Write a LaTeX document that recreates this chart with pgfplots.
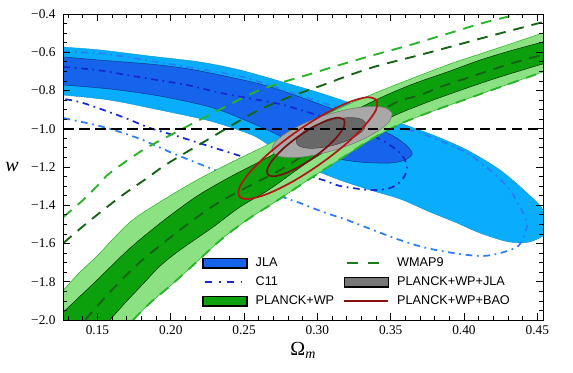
\documentclass[border=0pt]{standalone}
\usepackage{pgfplots}
\pgfplotsset{compat=1.18}
\usepackage{fontspec}
\setmainfont{Liberation Serif}
\setsansfont{Liberation Sans}
\definecolor{jlaL}{RGB}{10,172,252}
\definecolor{jlaD}{RGB}{22,100,235}
\definecolor{plL}{RGB}{140,226,130}
\definecolor{plD}{RGB}{12,160,12}
\definecolor{grL}{RGB}{168,168,168}
\definecolor{grD}{RGB}{104,104,104}
\definecolor{redO}{RGB}{178,22,22}
\definecolor{redI}{RGB}{118,18,18}
\definecolor{wmL}{RGB}{40,180,40}
\definecolor{wmD}{RGB}{20,100,20}
\definecolor{c11D}{RGB}{22,40,210}
\definecolor{c11L}{RGB}{40,125,250}
\begin{document}
\begin{tikzpicture}
\useasboundingbox (-47.6pt,-39pt) rectangle (382.1pt,240pt);
\begin{axis}[
  scale only axis, width=359.6pt, height=229.5pt,
  at={(0pt,0pt)}, anchor=south west,
  xmin=0.1268, xmax=0.4539, ymin=-2, ymax=-0.4,
  xtick={0.15,0.20,0.25,0.30,0.35,0.40,0.45},
  xticklabels={0.15,0.20,0.25,0.30,0.35,0.40,0.45},
  minor xtick={0.13,0.14,0.16,0.17,0.18,0.19,0.21,0.22,0.23,0.24,0.26,0.27,0.28,0.29,0.31,0.32,0.33,0.34,0.36,0.37,0.38,0.39,0.41,0.42,0.43,0.44},
  ytick={-2,-1.8,-1.6,-1.4,-1.2,-1,-0.8,-0.6,-0.4},
  yticklabels={−2.0,−1.8,−1.6,−1.4,−1.2,−1.0,−0.8,−0.6,−0.4},
  minor ytick={-1.95,-1.9,-1.85,-1.75,-1.7,-1.65,-1.55,-1.5,-1.45,-1.35,-1.3,-1.25,-1.15,-1.1,-1.05,-0.95,-0.9,-0.85,-0.75,-0.7,-0.65,-0.55,-0.5,-0.45},
  major tick length=5pt, minor tick length=2.7pt,
  every tick/.style={black, line width=0.6pt},
  axis line style={line width=0.7pt},
  tick label style={font=\fontsize{10}{12}\selectfont},
  yticklabel style={xshift=-2.5pt},
  xticklabel style={yshift=-1pt},
  xlabel={Ω\textsubscript{\itshape m}},
  ylabel={\itshape w},
  every axis x label/.style={at={(rel axis cs:0.5,0)}, anchor=center, yshift=-22.5pt, font=\fontsize{15}{17}\selectfont},
  every axis y label/.style={at={(rel axis cs:0,0.5)}, anchor=center, xshift=-38.6pt, font=\fontsize{15}{16}\selectfont},
  axis on top,
  legend columns=2,
  legend cell align=left,
  legend style={draw=none, fill=none, at={(axis cs:0.2213,-1.671)}, anchor=north west,
    font=\sffamily\fontsize{9.5}{11}\selectfont, inner sep=0pt, outer sep=0pt,
    nodes={inner sep=0pt, text height=7pt, text depth=2pt},
    row sep=5.25pt,
    /tikz/every odd column/.append style={column sep=6pt},
    /tikz/every even column/.append style={column sep=7pt}},
]
% JLA 2 sigma
\addplot[fill=jlaL, draw=jlaL!85!black, line width=0.3pt, smooth, tension=0.5, forget plot] coordinates {
(0.1268,-0.573) (0.1517,-0.588) (0.1858,-0.620) (0.2199,-0.651) (0.2472,-0.693) (0.2765,-0.756) (0.3018,-0.813) (0.3222,-0.865) (0.3427,-0.923) (0.3564,-0.970) (0.3789,-1.033) (0.4020,-1.111) (0.4246,-1.216) (0.4430,-1.336) (0.4539,-1.425) (0.4560,-1.540) (0.4484,-1.582) (0.4396,-1.597) (0.4280,-1.587) (0.4109,-1.545) (0.3939,-1.488) (0.3768,-1.435) (0.3564,-1.367) (0.3359,-1.320) (0.3154,-1.268) (0.2950,-1.205) (0.2745,-1.122) (0.2608,-1.054) (0.2520,-1.022) (0.2267,-0.959) (0.1926,-0.902) (0.1585,-0.850) (0.1268,-0.824)
} -- cycle;
% JLA 1 sigma
\addplot[fill=jlaD, draw=jlaD!60!black, line width=0.4pt, smooth, tension=0.5, forget plot] coordinates {
(0.1268,-0.625) (0.1517,-0.641) (0.1926,-0.667) (0.2199,-0.698) (0.2608,-0.766) (0.2881,-0.834) (0.3154,-0.912) (0.3359,-0.980) (0.3529,-1.043) (0.3618,-1.095) (0.3646,-1.132) (0.3598,-1.163) (0.3495,-1.179) (0.3291,-1.174) (0.3086,-1.148) (0.2881,-1.090) (0.2677,-1.012) (0.2472,-0.944) (0.2267,-0.886) (0.1926,-0.829) (0.1585,-0.792) (0.1268,-0.771)
} -- cycle;
% C11 2 sigma
\addplot[c11L, line width=1.3pt, dash pattern=on 5pt off 3.5pt on 1.3pt off 3.5pt, smooth, tension=0.5, forget plot] coordinates {
(0.1268,-0.599) (0.1497,-0.604) (0.1701,-0.625) (0.1906,-0.651) (0.2111,-0.677) (0.2315,-0.703) (0.2520,-0.735) (0.2813,-0.808) (0.3086,-0.876) (0.3359,-0.944) (0.3564,-0.996) (0.3700,-1.022) (0.3857,-1.069) (0.4020,-1.127) (0.4177,-1.216) (0.4314,-1.320) (0.4403,-1.441) (0.4430,-1.503) (0.4403,-1.571) (0.4362,-1.618) (0.4246,-1.650) (0.4129,-1.665) (0.3973,-1.655) (0.3748,-1.624) (0.3564,-1.582) (0.3379,-1.529) (0.3202,-1.477) (0.3039,-1.435) (0.2881,-1.388) (0.2765,-1.357) (0.2472,-1.268) (0.2179,-1.179) (0.1995,-1.122) (0.1810,-1.059) (0.1674,-1.022) (0.1517,-0.986) (0.1268,-0.944)
};
% C11 1 sigma
\addplot[c11D, line width=1.3pt, dash pattern=on 5pt off 3.5pt on 1.3pt off 3.5pt, smooth, tension=0.5, forget plot] coordinates {
(0.1268,-0.677) (0.1497,-0.693) (0.1701,-0.719) (0.1906,-0.745) (0.2111,-0.771) (0.2315,-0.808) (0.2520,-0.839) (0.2745,-0.871) (0.3018,-0.933) (0.3256,-0.996) (0.3461,-1.069) (0.3577,-1.137) (0.3611,-1.205) (0.3577,-1.268) (0.3495,-1.310) (0.3359,-1.320) (0.3154,-1.299) (0.3039,-1.268) (0.2745,-1.205) (0.2520,-1.153) (0.2302,-1.101) (0.2063,-1.043) (0.1858,-0.996) (0.1674,-0.939) (0.1401,-0.865) (0.1268,-0.844)
};
% PLANCK+WP 2 sigma
\addplot[fill=plL, draw=wmL, line width=0.4pt, smooth, tension=0.5, forget plot] coordinates {
(0.1268,-1.843) (0.1381,-1.749) (0.1497,-1.665) (0.1722,-1.488) (0.1947,-1.373) (0.2179,-1.268) (0.2404,-1.179) (0.2629,-1.095) (0.2881,-0.996) (0.3154,-0.892) (0.3427,-0.803) (0.3652,-0.735) (0.3905,-0.661) (0.4109,-0.609) (0.4314,-0.557) (0.4539,-0.499) (0.4560,-0.495) (0.4560,-0.706) (0.4539,-0.703) (0.4246,-0.782) (0.4020,-0.844) (0.3789,-0.907) (0.3564,-0.975) (0.3359,-1.059) (0.3168,-1.153) (0.2936,-1.268) (0.2711,-1.383) (0.2540,-1.466) (0.2356,-1.571) (0.2131,-1.728) (0.1995,-1.822) (0.1858,-1.911) (0.1742,-2.000) (0.1742,-2.010) (0.1268,-2.010)
} -- cycle;
% PLANCK+WP 1 sigma
\addplot[fill=plD, draw=black!70!plD, line width=0.4pt, smooth, tension=0.5, forget plot] coordinates {
(0.1268,-1.958) (0.1497,-1.791) (0.1722,-1.624) (0.1947,-1.482) (0.2179,-1.352) (0.2404,-1.252) (0.2629,-1.163) (0.2881,-1.059) (0.3154,-0.944) (0.3427,-0.839) (0.3652,-0.766) (0.3905,-0.698) (0.4109,-0.641) (0.4314,-0.593) (0.4539,-0.546) (0.4560,-0.542) (0.4560,-0.664) (0.4539,-0.661) (0.4246,-0.729) (0.4020,-0.787) (0.3789,-0.850) (0.3564,-0.918) (0.3359,-0.991) (0.3154,-1.075) (0.2936,-1.174) (0.2677,-1.315) (0.2472,-1.409) (0.2288,-1.514) (0.2063,-1.634) (0.1926,-1.718) (0.1810,-1.812) (0.1688,-1.911) (0.1585,-2.000) (0.1585,-2.010) (0.1268,-2.010)
} -- cycle;
% WMAP9 2 sigma
\addplot[wmL, line width=1.4pt, dash pattern=on 8pt off 6pt, smooth, tension=0.5, forget plot] coordinates {
(0.1268,-1.461) (0.1401,-1.373) (0.1517,-1.284) (0.1585,-1.231) (0.1810,-1.111) (0.2063,-1.007) (0.2288,-0.918) (0.2561,-0.813) (0.2745,-0.761) (0.2929,-0.719) (0.3106,-0.677) (0.3359,-0.620) (0.3632,-0.562) (0.3905,-0.499) (0.4129,-0.447) (0.4348,-0.405) (0.4375,-0.400)
};
\addplot[wmL, line width=1.4pt, dash pattern=on 8pt off 6pt, smooth, tension=0.5, forget plot] coordinates {
(0.1742,-2.000) (0.1858,-1.911) (0.1995,-1.822) (0.2131,-1.728) (0.2356,-1.571) (0.2540,-1.466) (0.2711,-1.383) (0.2936,-1.268) (0.3168,-1.153) (0.3359,-1.059) (0.3564,-0.975) (0.3789,-0.907) (0.4020,-0.844) (0.4246,-0.782) (0.4539,-0.703)
};
% WMAP9 1 sigma
\addplot[wmD, line width=1.4pt, dash pattern=on 8pt off 6pt, smooth, tension=0.5, forget plot] coordinates {
(0.1268,-1.597) (0.1428,-1.493) (0.1653,-1.357) (0.1838,-1.258) (0.1974,-1.184) (0.2247,-1.059) (0.2561,-0.918) (0.2793,-0.839) (0.3039,-0.771) (0.3222,-0.719) (0.3407,-0.672) (0.3700,-0.614) (0.3952,-0.562) (0.4177,-0.515) (0.4362,-0.478) (0.4539,-0.442)
};
\addplot[wmD, line width=1.4pt, dash pattern=on 8pt off 6pt, smooth, tension=0.5, forget plot] coordinates {
(0.1415,-2.000) (0.1585,-1.854) (0.1790,-1.697) (0.2063,-1.529) (0.2288,-1.404) (0.2520,-1.305) (0.2745,-1.216) (0.3018,-1.085) (0.3291,-0.965) (0.3543,-0.860) (0.3700,-0.824) (0.3857,-0.776) (0.4020,-0.735) (0.4225,-0.682) (0.4430,-0.635) (0.4539,-0.614)
};
% PLANCK+WP+JLA 2 sigma
\addplot[fill=grL, draw=grL!70!black, line width=0.4pt, smooth, tension=0.55, forget plot] coordinates {
(0.3510,-0.918) (0.3465,-0.891) (0.3364,-0.883) (0.3223,-0.896) (0.3063,-0.927) (0.2909,-0.972) (0.2784,-1.024) (0.2707,-1.074) (0.2690,-1.116) (0.2735,-1.143) (0.2836,-1.151) (0.2977,-1.138) (0.3137,-1.107) (0.3291,-1.062) (0.3416,-1.010) (0.3493,-0.960) (0.3510,-0.918)
};
% PLANCK+WP+JLA 1 sigma
\addplot[fill=grD, draw=grD!70!black, line width=0.4pt, smooth, tension=0.55, forget plot] coordinates {
(0.3330,-0.972) (0.3303,-0.951) (0.3244,-0.942) (0.3163,-0.945) (0.3070,-0.959) (0.2981,-0.983) (0.2910,-1.013) (0.2866,-1.044) (0.2856,-1.072) (0.2883,-1.093) (0.2942,-1.102) (0.3023,-1.099) (0.3116,-1.085) (0.3205,-1.061) (0.3276,-1.031) (0.3320,-1.000) (0.3330,-0.972)
};
% PLANCK+WP+BAO 2 sigma
\addplot[redO, line width=1.3pt, smooth, tension=0.55, forget plot] coordinates {
(0.3405,-0.849) (0.3340,-0.835) (0.3212,-0.862) (0.3043,-0.925) (0.2858,-1.015) (0.2684,-1.118) (0.2549,-1.219) (0.2472,-1.301) (0.2467,-1.353) (0.2532,-1.367) (0.2660,-1.340) (0.2829,-1.277) (0.3014,-1.187) (0.3188,-1.084) (0.3323,-0.983) (0.3400,-0.901) (0.3405,-0.849)
};
% PLANCK+WP+BAO 1 sigma
\addplot[redI, line width=1.3pt, smooth, tension=0.55, forget plot] coordinates {
(0.3183,-0.953) (0.3144,-0.942) (0.3070,-0.955) (0.2974,-0.990) (0.2871,-1.040) (0.2774,-1.099) (0.2701,-1.157) (0.2661,-1.206) (0.2661,-1.238) (0.2700,-1.249) (0.2774,-1.235) (0.2870,-1.201) (0.2973,-1.151) (0.3070,-1.092) (0.3143,-1.034) (0.3183,-0.985) (0.3183,-0.953)
};
% w = -1
\addplot[black, line width=1.1pt, dash pattern=on 8pt off 4pt, forget plot] coordinates {(0.1268,-1) (0.4539,-1)};
% legend
\addlegendimage{legend image code/.code={\draw[fill=jlaD,draw=black,line width=1.2pt] (0pt,-3.5pt) rectangle (33pt,3.5pt);}}
\addlegendentry{JLA}
\addlegendimage{legend image code/.code={\draw[wmD!70!wmL,line width=1.3pt,dash pattern=on 8pt off 8pt] (2pt,0pt) -- (33pt,0pt);}}
\addlegendentry{WMAP9}
\addlegendimage{legend image code/.code={\draw[c11D,line width=1.3pt,dash pattern=on 5pt off 5pt on 1.3pt off 5pt] (2pt,0pt) -- (33pt,0pt);}}
\addlegendentry{C11}
\addlegendimage{legend image code/.code={\draw[fill=grD!90!white,draw=black,line width=1.2pt] (0pt,-3.5pt) rectangle (33pt,3.5pt);}}
\addlegendentry{PLANCK+WP+JLA}
\addlegendimage{legend image code/.code={\draw[fill=plD,draw=black,line width=1.2pt] (0pt,-3.5pt) rectangle (33pt,3.5pt);}}
\addlegendentry{PLANCK+WP}
\addlegendimage{legend image code/.code={\draw[redI!90!red,line width=1.2pt] (0pt,0pt) -- (33pt,0pt);}}
\addlegendentry{PLANCK+WP+BAO}
\end{axis}
\end{tikzpicture}
\end{document}
